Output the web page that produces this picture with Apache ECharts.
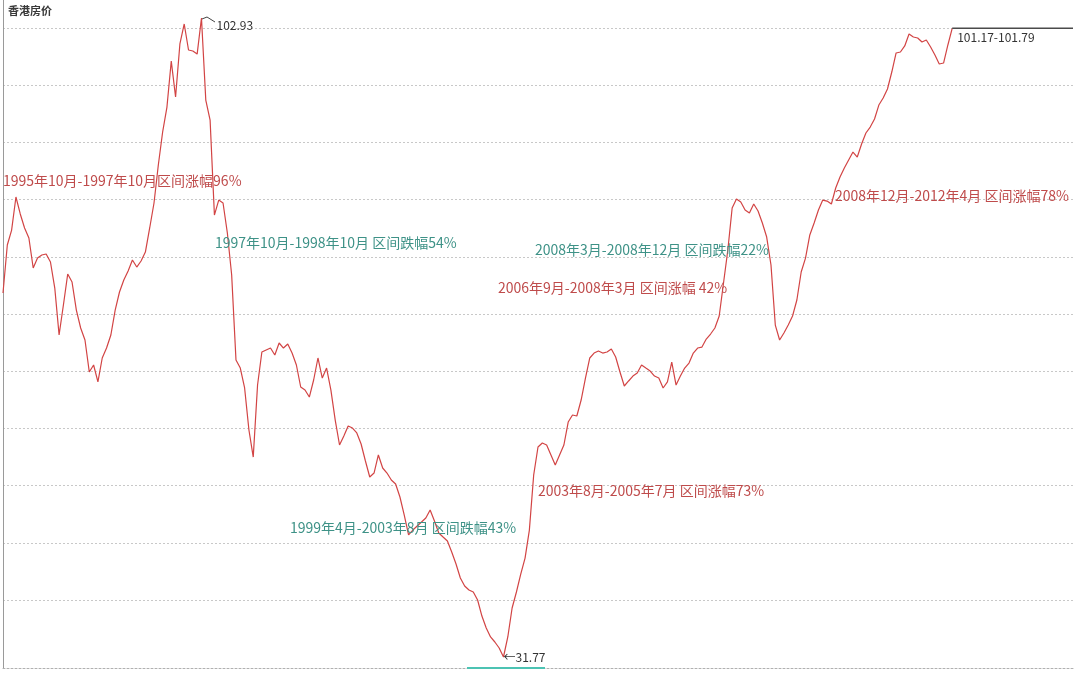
<!DOCTYPE html>
<html>
<head>
<meta charset="utf-8">
<script src="https://cdn.jsdelivr.net/npm/echarts@6/dist/echarts.min.js"></script>
<style>html,body{margin:0;padding:0;background:#fff}#c{width:1080px;height:673px}</style>
</head>
<body>
<div id="c"></div>
<script>
// Monthly categories (1994-01 onward)
const startYear = 1994;
const monthCount = 249;
const months = [];
for (let i = 0; i < monthCount; i++) {
  const y = startYear + Math.floor(i / 12);
  const m = (i % 12) + 1;
  months.push(y + '-' + (m < 10 ? '0' + m : m));
}

// 香港房价 index
const hkIndex = [
72.31,77.65,79.32,83.00,81.11,79.55,78.43,75.09,76.20,76.54,
76.65,75.76,72.86,67.63,70.97,74.42,73.53,70.41,68.41,67.07,
63.51,64.29,62.40,65.07,66.18,67.63,70.41,72.42,73.75,74.76,
75.98,75.20,75.87,76.87,79.55,82.33,86.56,90.24,93.02,98.14,
94.14,100.04,102.27,99.37,99.26,98.92,102.93,93.80,91.57,80.99,
82.66,82.33,78.99,74.31,64.85,63.95,61.73,57.05,54.04,62.06,
65.74,65.96,66.18,65.40,66.74,66.18,66.63,65.62,64.29,61.84,
61.50,60.72,62.62,65.07,62.84,63.95,61.50,58.16,55.38,56.38,
57.49,57.27,56.72,55.49,53.60,51.82,52.26,54.27,52.82,52.26,
51.48,51.04,49.59,47.58,45.36,45.91,46.36,46.80,47.25,48.14,
46.91,45.58,45.13,44.69,43.46,42.13,40.57,39.68,39.23,39.01,
38.12,36.33,35.00,34.00,33.44,32.77,31.77,34.00,37.23,39.01,
41.01,42.79,45.91,52.04,55.16,55.60,55.38,54.27,53.15,54.27,
55.38,57.94,58.72,58.61,60.39,62.84,65.07,65.62,65.85,65.62,
65.74,66.07,65.18,63.51,61.95,62.51,63.06,63.40,64.29,63.95,
63.62,63.06,62.84,61.73,62.40,64.62,62.06,63.06,63.95,64.51,
65.62,66.18,66.29,67.18,67.74,68.41,69.75,73.42,77.10,81.77,
82.78,82.44,81.55,81.22,82.22,81.44,80.10,78.54,75.43,68.74,
67.07,67.85,68.74,69.75,71.53,74.65,76.20,78.77,80.10,81.55,
82.66,82.55,82.22,84.00,85.23,86.23,87.12,88.01,87.45,88.90,
90.13,90.79,91.69,93.24,94.02,95.03,96.92,99.04,99.15,99.82,
101.15,100.82,100.71,100.26,100.48,99.70,98.81,97.81,97.92,99.93,
101.79
];

// Current range line (black) and its label values
const rangeLow = 101.17;
const rangeHigh = 101.79;

// Annotation texts
const notes = [
  {text: '1995年10月-1997年10月区间涨幅96%', kind: 'up'},
  {text: '1997年10月-1998年10月 区间跌幅54%', kind: 'down'},
  {text: '2008年3月-2008年12月 区间跌幅22%', kind: 'down'},
  {text: '2006年9月-2008年3月 区间涨幅 42%', kind: 'up'},
  {text: '2008年12月-2012年4月 区间涨幅78%', kind: 'up'},
  {text: '2003年8月-2005年7月 区间涨幅73%', kind: 'up'},
  {text: '1999年4月-2003年8月 区间跌幅43%', kind: 'down'}
];
const notePos = [[3,174],[215,236],[535,243],[498,281],[835,189],[538,484],[290,521]];

const lastIdx = hkIndex.length - 1;
const flatData = months.map((m, i) => i >= lastIdx ? rangeHigh : null);

const FONT = '"Noto Sans CJK SC", "Noto Sans", sans-serif';
const upColor = '#bf4b4b';
const downColor = '#3e9287';

const chart = echarts.init(document.getElementById('c'));
chart.setOption({
  animation: false,
  backgroundColor: '#fff',
  title: {
    text: '香港房价', left: 3, top: 0,
    textStyle: {fontSize: 11, fontWeight: 'bold', color: '#3a3a3a', fontFamily: FONT}
  },
  grid: [
    {left: 3, right: 7, top: 0, bottom: 5},
    {left: 3, right: 7, top: 28, height: 572}
  ],
  xAxis: [
    {type: 'category', data: months, boundaryGap: false, gridIndex: 0,
     axisLine: {show: true, lineStyle: {color: '#b0b0b0', type: [2, 2], width: 1}},
     axisTick: {show: false}, axisLabel: {show: false}, splitLine: {show: false}},
    {type: 'value', gridIndex: 1, min: 0, max: 1, show: false}
  ],
  yAxis: [
    {type: 'value', gridIndex: 0, min: 30.545, max: 104.94,
     axisLine: {show: true, lineStyle: {color: '#9a9a9a', width: 1}},
     axisTick: {show: false}, axisLabel: {show: false}, splitLine: {show: false}},
    {type: 'value', gridIndex: 1, min: 0, max: 10, interval: 1,
     axisLine: {show: false}, axisTick: {show: false}, axisLabel: {show: false},
     splitLine: {show: true, lineStyle: {color: '#c8c8c8', type: [2, 2], width: 1}}}
  ],
  series: [
    {
      type: 'line', data: hkIndex, xAxisIndex: 0, yAxisIndex: 0,
      showSymbol: false, symbol: 'none', clip: false,
      lineStyle: {color: '#d24444', width: 1.2},
      markPoint: {
        symbol: 'circle', symbolSize: 0,
        data: [
          {type: 'max', label: {show: true, position: 'right', offset: [10, 7], formatter: '{c}',
            color: '#333', fontSize: 12, fontFamily: FONT}},
          {type: 'min', label: {show: true, position: 'right', distance: 0, offset: [0, 0], formatter: '←{c}',
            color: '#333', fontSize: 12, fontFamily: FONT}}
        ]
      }
    },
    {
      type: 'line', data: flatData, xAxisIndex: 0, yAxisIndex: 0,
      showSymbol: false, symbol: 'none', clip: false,
      lineStyle: {color: '#4a4a4a', width: 1.5},
      markPoint: {
        symbol: 'circle', symbolSize: 0,
        data: [{coord: [months[lastIdx], rangeHigh],
          label: {show: true, position: 'right', offset: [0, 9],
            formatter: rangeLow + '-' + rangeHigh, color: '#333', fontSize: 12, fontFamily: FONT}}]
      }
    },
    {type: 'line', data: [], xAxisIndex: 1, yAxisIndex: 1}
  ],
  graphic: notes.map((n, k) => ({
    type: 'text', left: notePos[k][0], top: notePos[k][1], z: 10,
    style: {text: n.text, fill: n.kind === 'up' ? upColor : downColor, font: '14px ' + FONT}
  })).concat([
    {type: 'line', shape: {x1: 467, y1: 668, x2: 545, y2: 668}, style: {stroke: '#4cc3b3', lineWidth: 2}, z: 5},
    {type: 'polyline', shape: {points: [[202, 19], [207, 17], [215, 22]]}, style: {stroke: '#444', lineWidth: 1, fill: null}, z: 6}
  ])
});
</script>
</body>
</html>
